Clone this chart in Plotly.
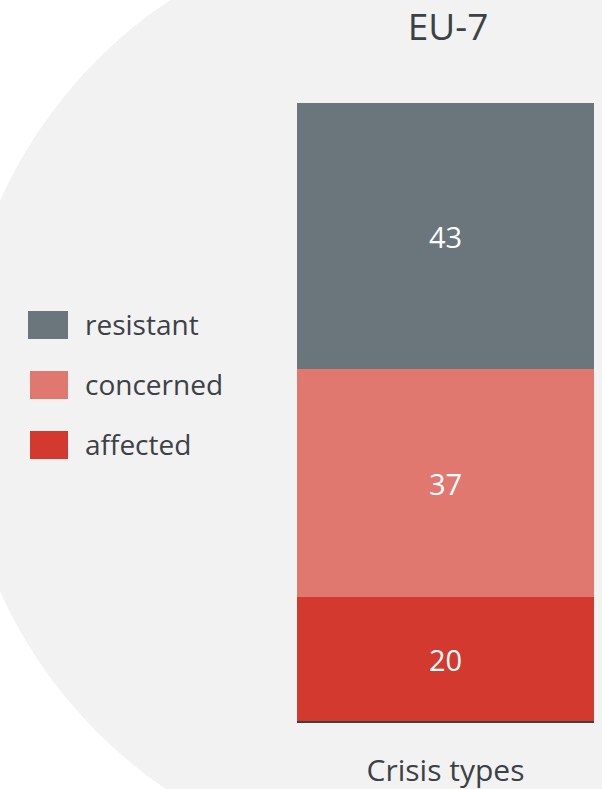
import plotly.graph_objects as go

# Survey result for the EU-7 group, stacked from bottom to top
category = ["Crisis types"]
series_names = ["affected", "concerned", "resistant"]
series_values = [20, 37, 43]
series_colors = ["#d3392e", "#e07870", "#6b767c"]

chart_title = "EU-7"

W, H = 602, 789
M_L, M_R, M_T, M_B = 297, 8, 103, 68
PW = W - M_L - M_R
PH = H - M_T - M_B


def px_x(px):
    """Pixel column -> paper x."""
    return (px - M_L) / PW


def px_y(py):
    """Pixel row (from top) -> paper y."""
    return (H - M_B - py) / PH


text_color = "#3c4146"
font_family = "Open Sans"

fig = go.Figure()
for name, val, col in zip(series_names, series_values, series_colors):
    fig.add_trace(go.Bar(
        x=category,
        y=[val],
        name=name,
        marker=dict(color=col, line=dict(width=0)),
        text=[str(val)],
        textposition="inside",
        insidetextanchor="middle",
        textfont=dict(family=font_family, size=29, color="white"),
        showlegend=False,
    ))

shapes = [
    # light grey disc behind the chart
    dict(type="circle", xref="paper", yref="paper", layer="below",
         x0=px_x(-42), x1=px_x(906), y0=px_y(871), y1=px_y(-79),
         fillcolor="#f2f2f2", line=dict(width=0)),
]
annotations = []

# legend drawn as coloured blocks with labels, top entry first
legend_rows = [(series_names[2], series_colors[2], 325, 28),
               (series_names[1], series_colors[1], 385, 30),
               (series_names[0], series_colors[0], 445, 30)]
for name, col, cy, x_left in legend_rows:
    shapes.append(dict(type="rect", xref="paper", yref="paper", layer="above",
                       x0=px_x(x_left), x1=px_x(68),
                       y0=px_y(cy + 14), y1=px_y(cy - 14),
                       fillcolor=col, line=dict(width=0)))
    annotations.append(dict(xref="paper", yref="paper", x=px_x(83), y=px_y(cy - 1),
                            xanchor="left", yanchor="middle", showarrow=False,
                            text=name,
                            font=dict(family=font_family, size=28, color=text_color)))

fig.update_layout(
    width=W, height=H,
    margin=dict(l=M_L, r=M_R, t=M_T, b=M_B, autoexpand=False),
    paper_bgcolor="white",
    plot_bgcolor="rgba(0,0,0,0)",
    barmode="stack",
    bargap=0,
    title=dict(text=chart_title, x=448 / W, xanchor="center",
               y=1 - 27 / H, yanchor="middle", yref="container",
               font=dict(family=font_family, size=37, color=text_color)),
    xaxis=dict(showline=True, linecolor="#404040", linewidth=2,
               showgrid=False, ticks="", ticklabelstandoff=22,
               tickfont=dict(family=font_family, size=30, color=text_color),
               fixedrange=True),
    yaxis=dict(range=[0, 100], visible=False, showgrid=False, zeroline=False),
    shapes=shapes,
    annotations=annotations,
    showlegend=False,
)

fig.write_html("out.html")
